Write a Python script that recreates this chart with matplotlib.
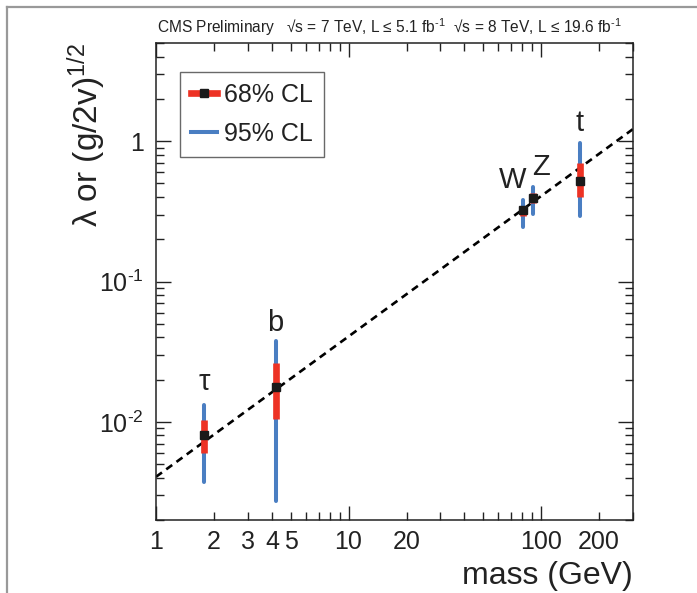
import numpy as np
import matplotlib
matplotlib.use("Agg")
import matplotlib.pyplot as plt
from matplotlib.lines import Line2D
from matplotlib.ticker import FixedLocator, FixedFormatter, NullFormatter

plt.rcParams['font.family'] = ['Liberation Sans', 'DejaVu Sans']
plt.rcParams['mathtext.fontset'] = 'custom'
plt.rcParams['mathtext.rm'] = 'Liberation Sans'
plt.rcParams['mathtext.it'] = 'Liberation Sans:italic'

# particle data: mass (GeV), best fit, 68% and 95% intervals
particles = ['τ', 'b', 'W', 'Z', 't']
mass = [1.777, 4.18, 80.4, 91.2, 160.0]
best = [0.00805, 0.01765, 0.322, 0.395, 0.522]
lo68 = [0.00596, 0.01052, 0.293, 0.361, 0.398]
hi68 = [0.01023, 0.0263, 0.345, 0.429, 0.701]
lo95 = [0.00371, 0.00273, 0.246, 0.301, 0.295]
hi95 = [0.0131, 0.0375, 0.381, 0.473, 0.963]
# where the particle names sit
label_x = [1.777, 4.18, 71.4, 99.7, 159.0]
label_y = [0.0191, 0.0509, 0.528, 0.653, 1.342]

vev = 246.22  # SM expectation: m / v

red = '#ED3224'
blue = '#4A7EC2'
ink = '#222222'

fig = plt.figure(figsize=(6.97, 5.93), dpi=100)
ax = fig.add_axes([156/697, 1 - 520/593, 477/697, 477/593])

ax.set_xscale('log')
ax.set_yscale('log')
ax.set_xlim(1, 300)
ax.set_ylim(0.002, 5)

# SM line
xs = np.array([1, 300])
ax.plot(xs, xs / vev, color='black', lw=1.9, ls=(0, (2.8, 2.0)), zorder=2)

# 95% (blue) and 68% (red) intervals
ax.vlines(mass, lo95, hi95, color=blue, lw=2.9, zorder=3, capstyle='round')
ax.vlines(mass, lo68, hi68, color=red, lw=4.8, zorder=4)
ax.plot(mass, best, ls='none', marker='s', ms=5.2, color='#1a1a1a', zorder=5)

for name, lx, ly in zip(particles, label_x, label_y):
    ax.text(lx, ly, name, ha='center', va='center', fontsize=21, color=ink)

# ticks
ax.xaxis.set_major_locator(FixedLocator([1, 10, 100]))
ax.xaxis.set_major_formatter(FixedFormatter(['1', '10', '100']))
xminor = [m * d for d in (1, 10, 100) for m in range(2, 10) if m * d <= 300]
ax.xaxis.set_minor_locator(FixedLocator(xminor))
xminor_lab = [str(int(v)) if v in (2, 3, 4, 5, 20, 200) else '' for v in xminor]
ax.xaxis.set_minor_formatter(FixedFormatter(xminor_lab))

ax.yaxis.set_major_locator(FixedLocator([0.01, 0.1, 1]))
ax.yaxis.set_major_formatter(FixedFormatter(['10$^{\u2010\\mathregular{2}}$',
                                             '10$^{\u2010\\mathregular{1}}$', '1']))
yminor = [m * d for d in (0.001, 0.01, 0.1, 1) for m in range(2, 10)
          if 0.002 <= m * d <= 5]
ax.yaxis.set_minor_locator(FixedLocator(yminor))
ax.yaxis.set_minor_formatter(NullFormatter())

ax.tick_params(which='both', direction='in', top=True, right=True,
               colors=ink, labelcolor=ink, labelsize=18)
ax.tick_params(axis='x', which='major', length=10, width=1.0, pad=7)
ax.tick_params(axis='x', which='minor', length=5.5, width=1.0, pad=7)
ax.tick_params(axis='y', which='major', length=11, width=1.0, pad=9)
ax.tick_params(axis='y', which='minor', length=5.5, width=1.0, pad=9)
for s in ax.spines.values():
    s.set_linewidth(1.1)
    s.set_color(ink)

ax.set_xlabel('mass (GeV)', fontsize=23, color=ink, loc='right')
ax.xaxis.set_label_coords(1.0, -0.085)
ax.set_ylabel(r'λ or (g/2v)$^{\mathregular{1/2}}$', fontsize=24, color=ink,
              loc='top')
ax.yaxis.set_label_coords(-0.1, 1.0)

# legend
handles = [Line2D([], [], color=red, lw=4.8, marker='s', ms=5.2,
                  mfc='#1a1a1a', mec='#1a1a1a'),
           Line2D([], [], color=blue, lw=2.9)]
leg = ax.legend(handles, ['68% CL', '95% CL'], loc='upper left',
                bbox_to_anchor=(0.05, 0.94), fontsize=18, frameon=True,
                fancybox=False, handlelength=1.05, handletextpad=0.25,
                borderpad=0.45, labelspacing=0.6, numpoints=1,
                borderaxespad=0)
leg.get_frame().set_edgecolor('#444444')
leg.get_frame().set_linewidth(1.0)
for t in leg.get_texts():
    t.set_color(ink)

# header
fig.text(157/697, 1 - 33/593,
         'CMS Preliminary   √s = 7 TeV, L ≤ 5.1 fb$^{\u2010\\mathregular{1}}$'
         '  √s = 8 TeV, L ≤ 19.6 fb$^{\u2010\\mathregular{1}}$',
         fontsize=11.2, color=ink, ha='left', va='baseline')

# partial grey frame from the page
fig.add_artist(Line2D([6.5/697, 6.5/697], [0, 1 - 6.5/593], color='#999999',
                      lw=1.6, transform=fig.transFigure))
fig.add_artist(Line2D([6.5/697, 1], [1 - 6.5/593, 1 - 6.5/593], color='#999999',
                      lw=1.6, transform=fig.transFigure))

fig.savefig('out.png', dpi=100)
